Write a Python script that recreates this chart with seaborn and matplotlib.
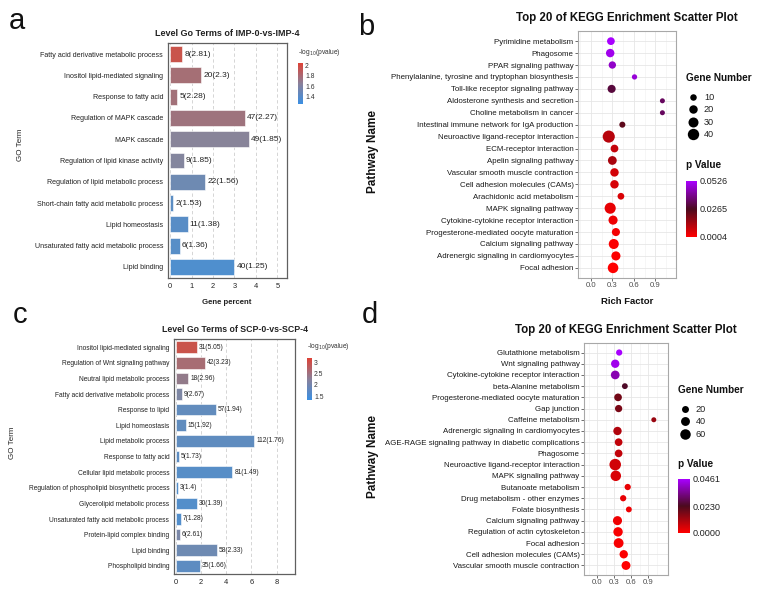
import numpy as np
import matplotlib
matplotlib.use("Agg")
import matplotlib.pyplot as plt
import matplotlib.colors as mcolors
from matplotlib.lines import Line2D
import seaborn as sns

# ---- panel a: GO terms IMP-0 vs IMP-4 ----
a_terms = ["Fatty acid derivative metabolic process", "Inositol lipid-mediated signaling",
           "Response to fatty acid", "Regulation of MAPK cascade", "MAPK cascade",
           "Regulation of lipid kinase activity", "Regulation of lipid metabolic process",
           "Short-chain fatty acid metabolic process", "Lipid homeostasis",
           "Unsaturated fatty acid metabolic process", "Lipid binding"]
a_pct = [0.56, 1.44, 0.34, 3.5, 3.66, 0.64, 1.63, 0.14, 0.82, 0.44, 3.0]
a_labels = ["8(2.81)", "20(2.3)", "5(2.28)", "47(2.27)", "49(1.85)", "9(1.85)",
            "22(1.56)", "2(1.53)", "11(1.38)", "6(1.36)", "40(1.25)"]
a_logp = [2.05, 1.82, 1.8, 1.78, 1.63, 1.6, 1.45, 1.33, 1.31, 1.3, 1.25]
a_ticks = [2, 1.8, 1.6, 1.4]

# ---- panel c: GO terms SCP-0 vs SCP-4 ----
c_terms = ["Inositol lipid-mediated signaling", "Regulation of Wnt signaling pathway",
           "Neutral lipid metabolic process", "Fatty acid derivative metabolic process",
           "Response to lipid", "Lipid homeostasis", "Lipid metabolic process",
           "Response to fatty acid", "Cellular lipid metabolic process",
           "Regulation of phospholipid biosynthetic process", "Glycerolipid metabolic process",
           "Unsaturated fatty acid metabolic process", "Protein-lipid complex binding",
           "Lipid binding", "Phospholipid binding"]
c_pct = [1.69, 2.31, 0.99, 0.47, 3.17, 0.81, 6.23, 0.26, 4.49, 0.15, 1.69, 0.39, 0.31, 3.25, 1.9]
c_labels = ["31(5.05)", "42(3.23)", "18(2.96)", "9(2.67)", "57(1.94)", "15(1.92)",
            "112(1.76)", "5(1.73)", "81(1.49)", "3(1.4)", "30(1.39)", "7(1.28)",
            "6(2.61)", "58(2.33)", "35(1.66)"]
c_logp = [3.2, 2.7, 2.4, 2.05, 1.62, 1.6, 1.58, 1.55, 1.45, 1.4, 1.4, 1.38, 2.0, 1.8, 1.55]
c_ticks = [3, 2.5, 2, 1.5]

# ---- panel b: KEGG top 20 ----
b_paths = ["Pyrimidine metabolism", "Phagosome", "PPAR signaling pathway",
           "Phenylalanine, tyrosine and tryptophan biosynthesis",
           "Toll-like receptor signaling pathway", "Aldosterone synthesis and secretion",
           "Choline metabolism in cancer", "Intestinal immune network for IgA production",
           "Neuroactive ligand-receptor interaction", "ECM-receptor interaction",
           "Apelin signaling pathway", "Vascular smooth muscle contraction",
           "Cell adhesion molecules (CAMs)", "Arachidonic acid metabolism",
           "MAPK signaling pathway", "Cytokine-cytokine receptor interaction",
           "Progesterone-mediated oocyte maturation", "Calcium signaling pathway",
           "Adrenergic signaling in cardiomyocytes", "Focal adhesion"]
b_rich = [0.28, 0.27, 0.30, 0.61, 0.29, 1.0, 1.0, 0.44, 0.25, 0.33,
          0.30, 0.33, 0.33, 0.42, 0.27, 0.31, 0.35, 0.32, 0.35, 0.31]
b_genes = [16, 20, 14, 5, 18, 4, 4, 8, 46, 16, 22, 20, 20, 11, 38, 24, 18, 30, 24, 34]
b_pval = [0.0526, 0.0505, 0.0462, 0.0480, 0.0300, 0.0340, 0.0340, 0.0240, 0.0110, 0.0090,
          0.0130, 0.0070, 0.0065, 0.0060, 0.0040, 0.0030, 0.0022, 0.0012, 0.0010, 0.0004]
b_size_legend = [10, 20, 30, 40]

# ---- panel d: KEGG top 20 ----
d_paths = ["Glutathione metabolism", "Wnt signaling pathway",
           "Cytokine-cytokine receptor interaction", "beta-Alanine metabolism",
           "Progesterone-mediated oocyte maturation", "Gap junction", "Caffeine metabolism",
           "Adrenergic signaling in cardiomyocytes",
           "AGE-RAGE signaling pathway in diabetic complications", "Phagosome",
           "Neuroactive ligand-receptor interaction", "MAPK signaling pathway",
           "Butanoate metabolism", "Drug metabolism - other enzymes", "Folate biosynthesis",
           "Calcium signaling pathway", "Regulation of actin cytoskeleton", "Focal adhesion",
           "Cell adhesion molecules (CAMs)", "Vascular smooth muscle contraction"]
d_rich = [0.39, 0.32, 0.32, 0.49, 0.37, 0.38, 1.0, 0.36, 0.38, 0.38,
          0.32, 0.33, 0.54, 0.46, 0.56, 0.36, 0.37, 0.38, 0.47, 0.51]
d_genes = [14, 34, 38, 11, 27, 23, 5, 34, 27, 27, 75, 60, 14, 14, 11, 42, 46, 51, 34, 40]
d_pval = [0.0461, 0.0440, 0.0380, 0.0240, 0.0180, 0.0170, 0.0130, 0.0100, 0.0080, 0.0080,
          0.0060, 0.0050, 0.0030, 0.0030, 0.0020, 0.0020, 0.0010, 0.0010, 0.0005, 0.00002]
d_size_legend = [20, 40, 60]

W, H = 759, 594
sns.set_style("white")
plt.rcParams["font.family"] = ["Liberation Sans", "DejaVu Sans"]

go_cmap = mcolors.LinearSegmentedColormap.from_list("go", ["#3A8FE3", "#8A8099", "#DE4236"])
kegg_cmap = mcolors.LinearSegmentedColormap.from_list("kegg", ["#FF0000", "#4B0A1E", "#A800FF"])


def box(x0, y0, x1, y1):
    # pixel box (top-left origin) -> figure fraction
    return [x0 / W, 1 - y1 / H, (x1 - x0) / W, (y1 - y0) / H]


def ftext(x, y, s, **kw):
    fig.text(x / W, 1 - y / H, s, **kw)


def go_panel(ax, cax, terms, pct, labels, logp, vmin, vmax, ticks, xlim, xticks, title,
             label_fs, title_fs, tick_fs):
    norm = mcolors.Normalize(vmin, vmax)
    pal = {t: go_cmap(norm(v)) for t, v in zip(terms, logp)}
    sns.barplot(x=pct, y=terms, hue=terms, palette=pal, legend=False, dodge=False,
                width=0.75, edgecolor="white", linewidth=0.4, ax=ax)
    for cont, lab in zip(ax.containers, labels):
        ax.bar_label(cont, labels=[lab], padding=1.5, fontsize=label_fs, color="#222222")
    ax.set_xlim(*xlim)
    ax.set_xticks(xticks)
    ax.set_ylim(len(terms) - 0.48, -0.52)
    ax.grid(axis="x", ls=(0, (4, 3)), color="#CFCFCF", lw=0.6)
    ax.set_axisbelow(True)
    for sp in ax.spines.values():
        sp.set_color("#606060")
        sp.set_linewidth(0.9)
    ax.tick_params(axis="y", length=2, width=0.5, color="#444444", labelsize=tick_fs,
                   labelcolor="#222222", pad=1.5)
    ax.tick_params(axis="x", length=2, width=0.5, color="#444444", labelsize=5.4,
                   labelcolor="#222222", pad=1.5)
    ax.set_xlabel("")
    ax.set_ylabel("")
    ax.set_title(title, fontsize=title_fs, fontweight="bold", color="#222222", pad=5)
    cb = fig.colorbar(plt.cm.ScalarMappable(norm=norm, cmap=go_cmap), cax=cax)
    cb.outline.set_visible(False)
    cb.set_ticks(ticks)
    cb.set_ticklabels([f"{t:g}" for t in ticks])
    cax.tick_params(axis="y", length=1.5, width=0.5, color="white", direction="in",
                    labelsize=4.9, labelcolor="#333333", pad=1.5, left=True, right=True)


def kegg_panel(ax, cax, paths, rich, genes, pval, mid_tick, size_pts, xlim, title):
    vmin, vmax = min(pval), max(pval)
    norm = mcolors.Normalize(vmin, vmax)
    smin, smax = size_pts(min(genes)), size_pts(max(genes))
    sns.scatterplot(x=rich, y=paths, hue=pval, palette=kegg_cmap, hue_norm=norm,
                    size=genes, sizes=(smin, smax), size_norm=(min(genes), max(genes)),
                    linewidth=0, legend=False, ax=ax, zorder=3)
    ax.set_xlim(*xlim)
    ax.set_xticks([0.0, 0.3, 0.6, 0.9])
    ax.set_xticklabels(["0.0", "0.3", "0.6", "0.9"])
    ax.set_xticks([-0.15, 0.15, 0.45, 0.75, 1.05], minor=True)
    ax.set_ylim(len(paths) - 1 + 0.85, -0.85)
    ax.grid(which="major", color="#E6E6E6", lw=0.6)
    ax.grid(which="minor", axis="x", color="#F0F0F0", lw=0.4)
    ax.set_axisbelow(True)
    for sp in ax.spines.values():
        sp.set_color("#A8A8A8")
        sp.set_linewidth(0.8)
    ax.tick_params(axis="both", which="major", length=2, width=0.5, color="#333333",
                   labelsize=5.7, labelcolor="#1A1A1A", pad=1.2, left=True, bottom=True)
    ax.tick_params(axis="both", which="minor", length=0)
    ax.tick_params(axis="x", labelsize=5.6, labelcolor="#4D4D4D")
    ax.set_xlabel("")
    ax.set_ylabel("")
    ax.set_title(title, fontsize=8.3, fontweight="bold", color="#111111", pad=7)
    cb = fig.colorbar(plt.cm.ScalarMappable(norm=norm, cmap=kegg_cmap), cax=cax)
    cb.outline.set_visible(False)
    ticks = [vmax, mid_tick, vmin]
    cb.set_ticks(ticks)
    cb.set_ticklabels([f"{t:.4f}" for t in ticks])
    cax.tick_params(axis="y", length=2, width=0.6, color="white", direction="in",
                    labelsize=6.6, labelcolor="#222222", pad=2, left=True, right=True)


def size_leg(x, y, values, size_pts):
    handles = [Line2D([], [], ls="", marker="o", color="black", markeredgewidth=0,
                      markersize=np.sqrt(size_pts(v))) for v in values]
    leg = fig.legend(handles, [str(v) for v in values], loc="upper left",
                     bbox_to_anchor=(x / W, 1 - y / H), frameon=False, fontsize=6.6,
                     borderpad=0, borderaxespad=0, labelspacing=0.38,
                     handletextpad=0.45, handlelength=1.5)
    for t in leg.get_texts():
        t.set_color("#222222")


def b_size(n):
    return 22 + (n - 10) * 1.5


def d_size(n):
    return 25 + (n - 20) * 0.8


fig = plt.figure(figsize=(W / 100, H / 100), dpi=100)

ax_a = fig.add_axes(box(168, 43, 287, 278))
cax_a = fig.add_axes(box(298, 63, 303, 104))
go_panel(ax_a, cax_a, a_terms, a_pct, a_labels, a_logp, 1.25, 2.05, a_ticks,
         (-0.1, 5.45), [0, 1, 2, 3, 4, 5], "Level Go Terms of IMP-0-vs-IMP-4", 6.0, 6.5, 5.1)
ftext(298, 52, r"-log$_{10}$(pvalue)", fontsize=4.8, color="#333333", va="center")
ftext(20, 145, "GO Term", fontsize=5.8, rotation=90, ha="center", va="center", color="#222222")
ftext(227, 303, "Gene percent", fontsize=5.6, fontweight="bold", ha="center", va="center",
      color="#222222")

ax_c = fig.add_axes(box(174, 339, 295, 574))
cax_c = fig.add_axes(box(307, 358, 312, 400))
go_panel(ax_c, cax_c, c_terms, c_pct, c_labels, c_logp, 1.33, 3.2, c_ticks,
         (-0.13, 9.45), [0, 2, 4, 6, 8], "Level Go Terms of SCP-0-vs-SCP-4", 4.8, 6.3, 4.75)
ftext(307, 347, r"-log$_{10}$(pvalue)", fontsize=4.8, color="#333333", va="center")
ftext(13, 443, "GO Term", fontsize=5.8, rotation=90, ha="center", va="center", color="#222222")

ax_b = fig.add_axes(box(578, 31, 676, 278))
cax_b = fig.add_axes(box(686, 181, 697, 237))
kegg_panel(ax_b, cax_b, b_paths, b_rich, b_genes, b_pval, 0.0265, b_size,
           (-0.18, 1.19), "Top 20 of KEGG Enrichment Scatter Plot")
ftext(686, 78, "Gene Number", fontsize=7.2, fontweight="bold", va="center", color="#111111")
size_leg(686, 93, b_size_legend, b_size)
ftext(686, 165, "p Value", fontsize=7.2, fontweight="bold", va="center", color="#111111")
ftext(373, 152, "Pathway Name", fontsize=8.5, fontweight="bold", rotation=90,
      ha="center", va="center", color="#111111")
ftext(627, 302, "Rich Factor", fontsize=6.8, fontweight="bold", ha="center", va="center",
      color="#111111")

ax_d = fig.add_axes(box(584, 343, 668, 575))
cax_d = fig.add_axes(box(678, 479, 690, 533))
kegg_panel(ax_d, cax_d, d_paths, d_rich, d_genes, d_pval, 0.0230, d_size,
           (-0.23, 1.25), "Top 20 of KEGG Enrichment Scatter Plot")
ftext(678, 390, "Gene Number", fontsize=7.2, fontweight="bold", va="center", color="#111111")
size_leg(678, 405, d_size_legend, d_size)
ftext(678, 464, "p Value", fontsize=7.2, fontweight="bold", va="center", color="#111111")
ftext(373, 457, "Pathway Name", fontsize=8.5, fontweight="bold", rotation=90,
      ha="center", va="center", color="#111111")

# panel letters
for letter, x, y in [("a", 17, 29), ("b", 366, 35), ("c", 20, 323), ("d", 370, 323)]:
    ftext(x, y, letter, fontsize=21, ha="center", va="baseline", color="#111111")

fig.savefig("out.png", dpi=100)
